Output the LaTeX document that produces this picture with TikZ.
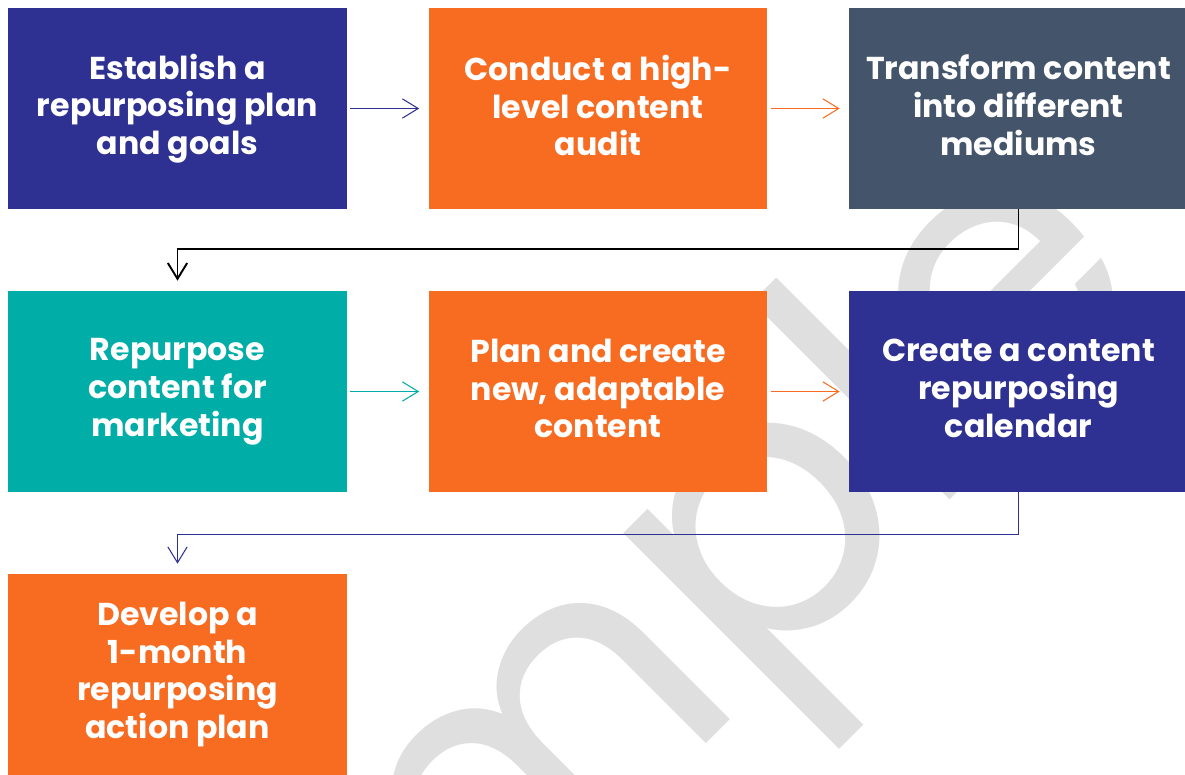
\documentclass[tikz,border=0pt]{standalone}
\usepackage{fontspec}
\setmainfont{Poppins}
\usetikzlibrary{arrows.meta}
\definecolor{navyc}{HTML}{2E3192}
\definecolor{orangec}{HTML}{F86C22}
\definecolor{slatec}{HTML}{44546A}
\definecolor{tealc}{HTML}{00ADA7}
\definecolor{markc}{HTML}{DFDFDF}
\begin{document}
\begin{tikzpicture}
    [
    x=0.02cm, y=-0.02cm,
    box/.style={rectangle,inner sep=0pt,minimum width=6.78cm,minimum height=4.02cm,
      text=white,align=center,font=\fontsize{18}{21.5}\selectfont\bfseries,
      execute at begin node={\rule{0pt}{17.9pt}}, execute at end node={\rule[-3.6pt]{0pt}{3.6pt}}},
    navy/.style={fill=navyc},
    orange/.style={fill=orangec},
    slate/.style={fill=slatec},
    teal/.style={fill=tealc},
    flow/.style={line width=0.6pt,-{Straight Barb[length=9pt,width=11pt]},shorten <=0.06cm,shorten >=0.18cm},
    elbow/.style={-{Straight Barb[length=9pt,width=11pt]},shorten >=0.2cm}
    ]
    \useasboundingbox (0,0) rectangle (1185,774);
    % watermark behind the steps
    \node (mark) at (585,737) [rotate=45,text=markc,font=\fontsize{215}{215}\selectfont] {Sample};
    \node (plan) at (177.5,108.5) [box, navy] {Establish a\\repurposing plan\\and goals};
    \node (audit) at (598,108.5) [box, orange] {Conduct a high-\\level content\\audit};
    \node (transform) at (1018.5,108.5) [box, slate] {Transform content\\into different\\mediums};
    \node (repurpose) at (177.5,391.5) [box, teal] {Repurpose\\content for\\marketing};
    \node (create) at (598,391.5) [box, orange] {Plan and create\\new, adaptable\\content};
    \node (calendar) at (1018.5,391.5) [box, navy] {Create a content\\repurposing\\calendar};
    \node (action) at (177.5,674.5) [box, orange] {Develop a\\1-month\\repurposing\\action plan};
    \draw [flow, navyc] (plan) -- (audit);
    \draw [flow, orangec] (audit) -- (transform);
    \draw [elbow, line width=1.1pt, black] (transform.south) -- ++(0,40) -| (repurpose.north);
    \draw [flow, tealc] (repurpose) -- (create);
    \draw [flow, orangec] (create) -- (calendar);
    \draw [elbow, line width=0.6pt, navyc] (calendar.south) -- ++(0,42) -| (action.north);
  \end{tikzpicture}
\end{document}
